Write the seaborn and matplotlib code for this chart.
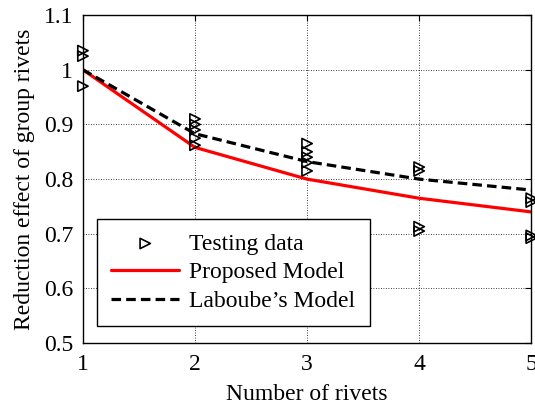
import matplotlib
matplotlib.use("Agg")
import matplotlib.pyplot as plt
import seaborn as sns
import pandas as pd

# Data
test_x = [1, 1, 1, 2, 2, 2, 2, 2, 3, 3, 3, 3, 3, 4, 4, 4, 4, 5, 5, 5, 5]
test_y = [1.035, 1.025, 0.97, 0.91, 0.90, 0.89, 0.875, 0.862,
          0.865, 0.85, 0.84, 0.83, 0.815, 0.822, 0.815, 0.713, 0.705,
          0.765, 0.758, 0.697, 0.692]
model_x = [1, 2, 3, 4, 5]
proposed_y = [1.0, 0.858, 0.80, 0.765, 0.74]
laboube_y = [1.0, 0.883, 0.832, 0.80, 0.78]
x_ticks = [1, 2, 3, 4, 5]
y_ticks = [0.5, 0.6, 0.7, 0.8, 0.9, 1.0, 1.1]
y_tick_labels = ["0.5", "0.6", "0.7", "0.8", "0.9", "1", "1.1"]

sns.set_style("white")
plt.rcParams['font.family'] = ['Liberation Serif', 'DejaVu Serif']
for k in ['text.color', 'axes.labelcolor', 'xtick.color', 'ytick.color']:
    plt.rcParams[k] = 'black'

FS = 17

fig = plt.figure(figsize=(5.35, 4.08), dpi=100)
ax = fig.add_axes([0.155, 0.159, 0.838, 0.804])

df_test = pd.DataFrame({"x": test_x, "y": test_y})
df_model = pd.DataFrame({"x": model_x, "p": proposed_y, "l": laboube_y})

sns.scatterplot(data=df_test, x="x", y="y", ax=ax, marker=">", s=55,
                facecolor="none", edgecolor="black", linewidth=1.2,
                label="Testing data", zorder=3, clip_on=False)
sns.lineplot(data=df_model, x="x", y="p", ax=ax, color="#ff0000", lw=2.3,
             label="Proposed Model", zorder=2)
sns.lineplot(data=df_model, x="x", y="l", ax=ax, color="black", lw=2.3,
             linestyle=(0, (3.0, 1.6)), label="Laboube\u2019s Model", zorder=2)

ax.set_xlim(1, 5)
ax.set_ylim(0.5, 1.1)
ax.set_xticks(x_ticks)
ax.set_yticks(y_ticks)
ax.set_yticklabels(y_tick_labels)
ax.grid(True, color="black", linestyle=(0, (1, 2)), linewidth=0.6)
ax.tick_params(direction="in", length=4, top=True, right=True,
               labelsize=FS, width=0.8)
ax.tick_params(axis="x", pad=8)
ax.tick_params(axis="y", pad=7)
for s in ax.spines.values():
    s.set_color("black")
    s.set_linewidth(1.0)

ax.set_xlabel("Number of rivets", fontsize=FS, labelpad=6)
ax.set_ylabel("Reduction effect of group rivets", fontsize=FS, labelpad=6)

leg = ax.legend(loc="lower left", bbox_to_anchor=(0.031, 0.052), fontsize=FS,
                frameon=True, fancybox=False, edgecolor="black",
                handlelength=2.9, borderpad=0.6, labelspacing=0.3,
                handletextpad=0.42, borderaxespad=0)
leg.get_frame().set_linewidth(1.0)
leg.get_frame().set_alpha(1)

fig.savefig("out.png", dpi=100)
